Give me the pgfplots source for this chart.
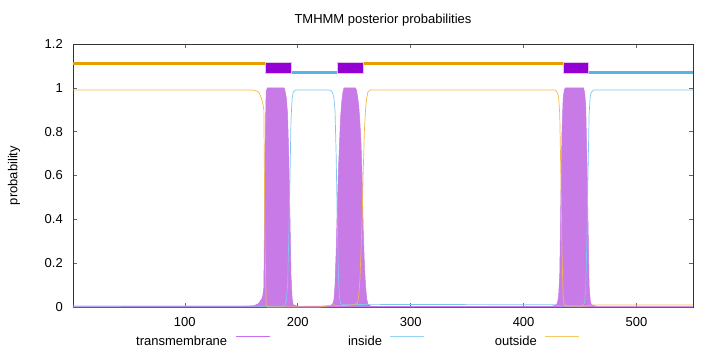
\documentclass[border=0pt]{standalone}
\usepackage{pgfplots}
\pgfplotsset{compat=1.18}
\usepackage{fontspec}
\setmainfont{Liberation Sans}
\definecolor{tmfill}{RGB}{200,122,230}
\definecolor{inline}{RGB}{125,198,238}
\definecolor{outline}{RGB}{240,184,74}
\definecolor{barorange}{RGB}{230,159,0}
\definecolor{barblue}{RGB}{86,180,233}
\definecolor{boxpurple}{RGB}{148,0,211}
\definecolor{legtm}{RGB}{200,110,240}
\definecolor{legin}{RGB}{150,210,245}
\definecolor{legout}{RGB}{245,200,100}
\begin{document}
\fontsize{13bp}{15bp}\selectfont
\begin{tikzpicture}
\begin{axis}[
  scale only axis, width=620bp, height=263bp,
  xmin=1, xmax=550, ymin=0, ymax=1.2,
  xtick={100,200,300,400,500},
  xticklabels={100,200,300,400,500},
  ytick={0,0.2,0.4,0.6,0.8,1,1.2},
  yticklabels={0,0.2,0.4,0.6,0.8,1,1.2},
  tick align=inside, major tick length=4bp,
  axis line style={black!80, line width=0.8bp},
  tick style={black!60, line width=0.6bp},
  yticklabel style={inner sep=0pt, xshift=-10bp},
  xticklabel style={inner sep=0pt, yshift=-10bp},
  title={TMHMM posterior probabilities},
  every axis title/.style={at={(axis description cs:0.5,1)}, anchor=base, yshift=20bp, inner sep=0pt},
  ylabel={probability},
  every axis y label/.style={at={(axis description cs:-0.0952,0.5)}, anchor=center, rotate=90, inner sep=0pt},
  legend columns=3, legend plot pos=right,
  legend style={at={(axis description cs:0,0)}, anchor=north west, xshift=42bp, yshift=-28.5bp,
    draw=none, fill=none, inner sep=0pt, column sep=0pt, nodes={inner sep=0pt}},
  legend image code/.code={\path (0bp,0bp) (42bp,0bp); \draw[#1] (8bp,4.5bp) -- (42bp,4.5bp);},
]
% transmembrane posterior (filled)
\addplot[forget plot, fill=tmfill, draw=tmfill, line width=0.5bp] coordinates {
(1,0.002) (150,0.003) (160,0.005) (163,0.01) (165,0.015) (166,0.02) (167,0.03) (168,0.035) (169,0.05) (170,0.09) (171,0.7) (172,0.98) (173,1) (188,1) (189,0.98) (190,0.95) (191,0.88) (192,0.7) (193,0.45) (194,0.15) (195,0.04) (196,0.01) (200,0.003) (228,0.005) (230,0.01) (231,0.015) (232,0.03) (233,0.1) (234,0.25) (235,0.45) (236,0.62) (237,0.75) (238,0.87) (239,0.94) (240,0.98) (241,1) (251,1) (252,0.99) (253,0.96) (254,0.92) (255,0.85) (256,0.75) (257,0.6) (258,0.35) (259,0.2) (260,0.1) (261,0.04) (262,0.015) (265,0.003) (425,0.003) (429,0.01) (430,0.02) (431,0.05) (432,0.15) (433,0.5) (434,0.8) (435,0.95) (436,0.99) (437,1) (453,1) (454,0.98) (455,0.92) (456,0.7) (457,0.4) (458,0.1) (459,0.03) (460,0.01) (465,0.002) (550,0.002)
} \closedcycle;
% inside posterior
\addplot[forget plot, inline, line width=0.7bp] coordinates {
(1,0.005) (160,0.005) (168,0.003) (188,0.003) (190,0.03) (191,0.1) (192,0.3) (193,0.55) (194,0.85) (195,0.95) (196,0.98) (198,0.99) (228,0.99) (230,0.985) (231,0.975) (232,0.955) (233,0.9) (234,0.7) (235,0.4) (236,0.15) (237,0.04) (238,0.015) (240,0.01) (262,0.012) (428,0.01) (432,0.005) (452,0.005) (454,0.02) (455,0.08) (456,0.3) (457,0.6) (458,0.88) (459,0.96) (460,0.98) (462,0.99) (550,0.99)
};
% outside posterior
\addplot[forget plot, outline, line width=0.7bp] coordinates {
(1,0.99) (160,0.99) (164,0.985) (166,0.975) (168,0.95) (169,0.93) (170,0.9) (171,0.3) (172,0.02) (173,0) (220,0) (226,0.005) (232,0.01) (236,0.005) (250,0.01) (253,0.02) (254,0.05) (255,0.12) (256,0.25) (257,0.4) (258,0.62) (259,0.8) (260,0.9) (261,0.95) (262,0.98) (264,0.99) (428,0.99) (429,0.985) (430,0.975) (431,0.96) (432,0.88) (433,0.6) (434,0.25) (435,0.05) (436,0.01) (440,0.005) (456,0.005) (460,0.009) (550,0.009)
};
% topology bars
\addplot[forget plot, barorange, line width=3bp] coordinates {(1,1.11) (171,1.11)};
\addplot[forget plot, barorange, line width=3bp] coordinates {(258,1.11) (435,1.11)};
\addplot[forget plot, barblue, line width=3bp] coordinates {(194,1.07) (235,1.07)};
\addplot[forget plot, barblue, line width=3bp] coordinates {(457,1.07) (550,1.07)};
\addplot[forget plot, fill=boxpurple, draw=boxpurple!25, line width=0.8bp] coordinates {(171,1.066) (194,1.066) (194,1.115) (171,1.115)} --cycle;
\addplot[forget plot, fill=boxpurple, draw=boxpurple!25, line width=0.8bp] coordinates {(235,1.066) (258,1.066) (258,1.115) (235,1.115)} --cycle;
\addplot[forget plot, fill=boxpurple, draw=boxpurple!25, line width=0.8bp] coordinates {(435,1.066) (457,1.066) (457,1.115) (435,1.115)} --cycle;
% legend
\addlegendimage{legtm, line width=0.8bp}
\addlegendentry{\makebox[112bp][r]{transmembrane}}
\addlegendimage{legin, line width=0.8bp}
\addlegendentry{\makebox[112bp][r]{inside}}
\addlegendimage{legout, line width=0.8bp}
\addlegendentry{\makebox[112bp][r]{outside}}
\end{axis}
\pgfresetboundingbox
\path[use as bounding box] ([shift={(-73bp,-45bp)}]current axis.south west) rectangle ([shift={(27bp,44bp)}]current axis.north east);
\end{tikzpicture}
\end{document}
